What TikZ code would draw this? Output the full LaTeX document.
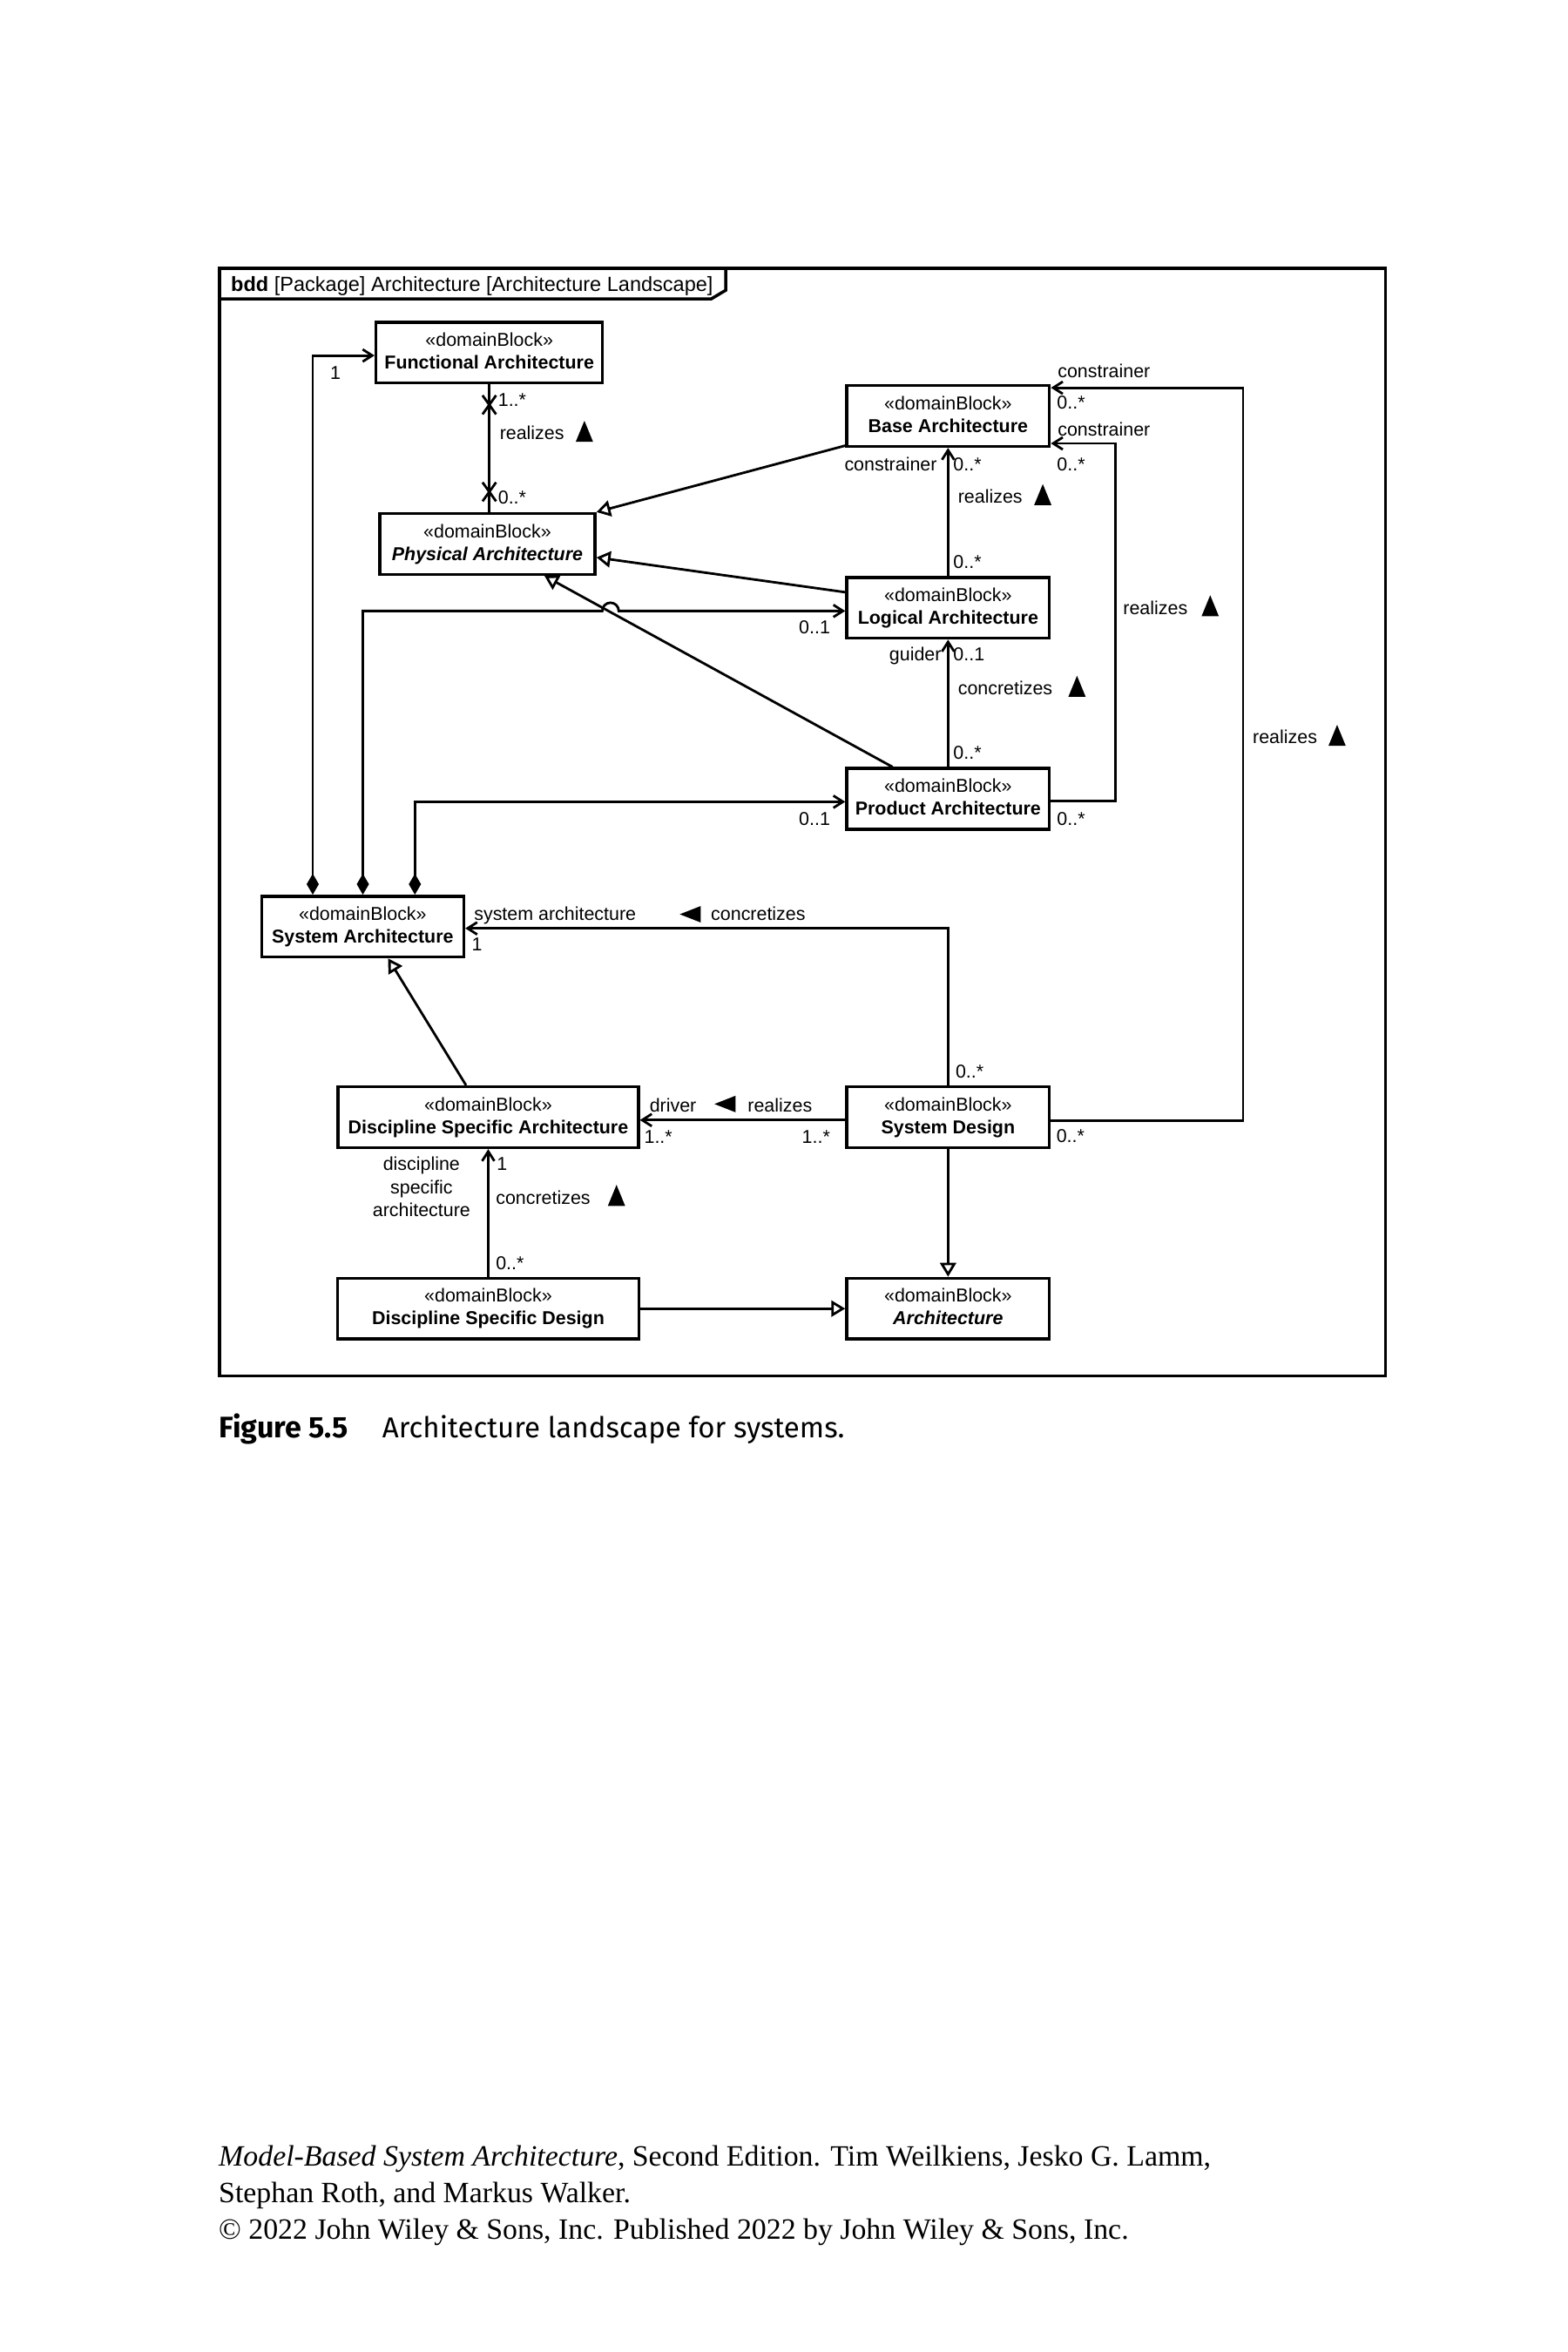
\documentclass[tikz,border=0pt]{standalone}
\usepackage{fontspec}
\setmainfont{Liberation Sans}
\newfontfamily\capfont{Fira Sans}
\newfontfamily\footfont{Liberation Serif}
\usetikzlibrary{arrows.meta,calc}
\newcommand\db[1]{\rule{0pt}{4.6pt}«domainBlock»\\\textbf{#1}\rule[-1.4pt]{0pt}{1.4pt}}
\newcommand\dbi[1]{\rule{0pt}{4.6pt}«domainBlock»\\\textbf{\itshape #1}\rule[-1.4pt]{0pt}{1.4pt}}
\newcommand\uptri[1]{\fill #1 ++(-5.75,7) -- ++(11.5,0) -- ++(-5.75,-14) -- cycle;}
\newcommand\lftri[1]{\fill #1 ++(7,-5.5) -- ++(0,11) -- ++(-14,-5.5) -- cycle;}
\tikzset{
  blk/.style={draw, line width=1pt, minimum height=0.698cm, inner sep=0pt, align=center,
    font=\fontsize{6.1}{7.4}\selectfont},
  lbl/.style={inner sep=0pt, anchor=base west, font=\fontsize{6.1}{7.1}\selectfont},
  lble/.style={lbl, anchor=base east},
  con/.style={line width=0.8pt, line join=miter},
  nav/.style={con, -{Straight Barb[length=0.11cm, width=0.14cm]}},
  gen/.style={con, -{Triangle[open, length=0.16cm, width=0.185cm]}},
  comp/.style={con, {Diamond[length=0.24cm, width=0.14cm]}-{Straight Barb[length=0.11cm, width=0.14cm]}},
}
\begin{document}
\begin{tikzpicture}[x=0.017225cm, y=-0.017225cm]
\fill[white] (0,0) rectangle (1045,1568);
\useasboundingbox (0,0) rectangle (1045,1568);

% frame
\draw[line width=1pt] (146.2,179) rectangle (923.7,917.3);
\draw[line width=1pt] (146.2,199.3) -- (474.1,199.3) -- (483.8,193.5) -- (483.8,179);
\node[inner sep=0pt, anchor=base west, font=\fontsize{6.7}{8}\selectfont] (title) at (153.6,194)
  {\textbf{bdd} [Package] Architecture [Architecture Landscape]};

% blocks
\node[blk, minimum width=2.601cm] (fa) at (326.2,235.1) {\db{Functional Architecture}};
\node[blk, minimum width=2.327cm] (ba) at (632.05,277.3) {\db{Base Architecture}};
\node[blk, minimum width=2.472cm] (pa) at (324.9,362.65) {\dbi{Physical Architecture}};
\node[blk, minimum width=2.327cm] (la) at (632.05,405.15) {\db{Logical Architecture}};
\node[blk, minimum width=2.327cm] (pra) at (632.05,532.6) {\db{Product Architecture}};
\node[blk, minimum width=2.322cm] (sa) at (241.8,617.7) {\db{System Architecture}};
\node[blk, minimum width=3.448cm] (dsa) at (325.5,744.8) {\db{Discipline Specific Architecture}};
\node[blk, minimum width=2.327cm] (sd) at (632.05,744.75) {\db{System Design}};
\node[blk, minimum width=3.459cm] (dsd) at (325.5,872.4) {\db{Discipline Specific Design}};
\node[blk, minimum width=2.327cm] (ar) at (632.05,872.4) {\dbi{Architecture}};

% helper coordinates
\coordinate (h2) at (208.5,237);
\coordinate (h3) at (241.9,407.3);
\coordinate (hop) at (401.5,407.3);
\coordinate (h4) at (276.6,534.5);
\coordinate (r1) at (743.7,534);
\coordinate (r1b) at (743.7,295.6);
\coordinate (r2) at (828.7,747);
\coordinate (r2t) at (828.7,258.5);
\coordinate (c12) at (632.05,618.9);
\coordinate (c13) at (632.05,746.7);

% Functional -- Physical (non-navigable both ends)
\draw[con] (fa.south) -- (fa.south |- pa.north);
\draw[con] ($(fa.south)+(-4.5,7.2)$) -- ++(9,12.6) ($(fa.south)+(4.5,7.2)$) -- ++(-9,12.6);
\draw[con] ($(fa.south |- pa.north)+(-4.5,-19.8)$) -- ++(9,12.6) ($(fa.south |- pa.north)+(4.5,-19.8)$) -- ++(-9,12.6);

% compositions from System Architecture
\draw[comp] (sa.north -| h2) -- (h2) -- (fa.west |- h2);
\draw[comp] (sa.north -| h3) -- (h3) -- (hop) arc[start angle=180, end angle=0, radius=0.0947cm] -- (la.west |- h3);
\draw[comp] (sa.north -| h4) -- (h4) -- (pra.west |- h4);

% generalizations to Physical Architecture
\draw[gen] ($(ba.south west)+(0,-1.5)$) -- (pa.north east);
\draw[gen] ($(la.west)+(0,-10.35)$) -- ($(pa.east)+(0,8.95)$);
\draw[gen] ($(pra.north)+(-37,0)$) -- ($(pa.south)+(38.1,0)$);

% associations on the right
\draw[nav] (la.north) -- (ba.south);
\draw[nav] (pra.north) -- (la.south);
\draw[nav] (pra.east |- r1) -- (r1) -- (r1b) -- (ba.east |- r1b);
\draw[nav] (sd.east |- r2) -- (r2) -- (r2t) -- (ba.east |- r2t);
\draw[nav] (sd.north) -- (c12) -- (sa.east |- c12);
\draw[nav] (sd.west |- c13) -- (dsa.east |- c13);
\draw[gen] ($(dsa.north)+(-14.8,0)$) -- ($(sa.south)+(17,0)$);
\draw[nav] (dsd.north) -- (dsa.south);
\draw[gen] (dsd.east) -- (ar.west);
\draw[gen] (sd.south) -- (ar.north);

% labels
\node[lbl] (m1) at (219.7,252.7) {1};
\node[lbl] (m2) at (331.7,270.9) {1..*};
\node[lbl] (m3) at (332.8,293.2) {realizes};
\node[lbl] (m4) at (331.7,335.8) {0..*};
\node[lbl] (m5) at (704.8,251.9) {constrainer};
\node[lbl] (m6) at (704.3,272.6) {0..*};
\node[lbl] (m7) at (704.8,290.9) {constrainer};
\node[lbl] (m8) at (704.3,313.7) {0..*};
\node[lble] (m9) at (625,313.7) {constrainer};
\node[lbl] (m10) at (635.2,313.7) {0..*};
\node[lbl] (m11) at (638.3,335.3) {realizes};
\node[lbl] (m12) at (635.2,379) {0..*};
\node[lble] (m13) at (553.8,422.7) {0..1};
\node[lbl] (m14) at (748.4,409.5) {realizes};
\node[lble] (m15) at (627.9,440.6) {guider};
\node[lbl] (m16) at (635.2,440.6) {0..1};
\node[lbl] (m17) at (638.3,463.4) {concretizes};
\node[lbl] (m18) at (635.2,506.2) {0..*};
\node[lbl] (m19) at (834.8,495.6) {realizes};
\node[lble] (m20) at (553.8,550.4) {0..1};
\node[lbl] (m21) at (704.3,550.4) {0..*};
\node[lbl] (m22) at (315.7,613.4) {system architecture};
\node[lbl] (m23) at (473.6,613.4) {concretizes};
\node[lbl] (m24) at (314.2,633.8) {1};
\node[lbl] (m25) at (636.7,718.9) {0..*};
\node[lbl] (m26) at (432.7,741.2) {driver};
\node[lbl] (m27) at (498.1,741.2) {realizes};
\node[lbl] (m28) at (429.1,762.5) {1..*};
\node[lbl] (m29) at (534.3,762.5) {1..*};
\node[lbl] (m30) at (703.9,761.5) {0..*};
\node[lbl, anchor=base] (m31) at (281,780.3) {discipline};
\node[lbl, anchor=base] (m32) at (281,795.8) {specific};
\node[lbl, anchor=base] (m33) at (281,810.8) {architecture};
\node[lbl] (m34) at (330.8,780.3) {1};
\node[lbl] (m35) at (330.2,802.7) {concretizes};
\node[lbl] (m36) at (330.2,846.6) {0..*};

% direction triangles
\uptri{(389.6,287.5)}
\uptri{(695.2,329.7)}
\uptri{(718,457.5)}
\uptri{(806.8,403.8)}
\uptri{(891.4,490.2)}
\uptri{(411,796.9)}
\lftri{(460.2,609.5)}
\lftri{(483.3,736)}

% caption
\node[inner sep=0pt, anchor=base west, font=\capfont\bfseries\fontsize{9.7}{11}\selectfont] (cap1) at (145.7,958.7) {Figure 5.5};
\node[inner sep=0pt, anchor=base west, font=\capfont\fontsize{9.4}{11}\selectfont] (cap2) at (254.5,958.7) {Architecture landscape for systems.};

% footer
\node[inner sep=0pt, anchor=base west, font=\footfont\fontsize{9.63}{11.8}\selectfont] (ft1) at (145.5,1444.2)
  {\textit{Model-Based System Architecture}, Second Edition. Tim Weilkiens, Jesko G. Lamm,};
\node[inner sep=0pt, anchor=base west, font=\footfont\fontsize{9.63}{11.8}\selectfont] (ft2) at (145.5,1468.6)
  {Stephan Roth, and Markus Walker.};
\node[inner sep=0pt, anchor=base west, font=\footfont\fontsize{9.63}{11.8}\selectfont] (ft3) at (145.5,1493)
  {© 2022 John Wiley \& Sons, Inc. Published 2022 by John Wiley \& Sons, Inc.};
\end{tikzpicture}
\end{document}
